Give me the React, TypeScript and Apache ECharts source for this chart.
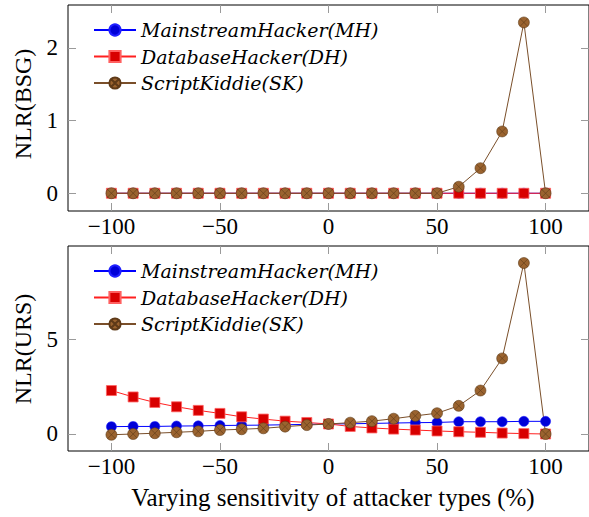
import React, { useEffect, useRef } from "react";
import * as echarts from "echarts";

const xValues = [-100, -90, -80, -70, -60, -50, -40, -30, -20, -10, 0, 10, 20, 30, 40, 50, 60, 70, 80, 90, 100];
const xTicks = [-100, -50, 0, 50, 100];

const seriesNames = ["MainstreamHacker(MH)", "DatabaseHacker(DH)", "ScriptKiddie(SK)"];

// NLR(BSG)
const bsgMH = [0, 0, 0, 0, 0, 0, 0, 0, 0, 0, 0, 0, 0, 0, 0, 0, 0, 0, 0, 0, 0];
const bsgDH = [0, 0, 0, 0, 0, 0, 0, 0, 0, 0, 0, 0, 0, 0, 0, 0, 0, 0, 0, 0, 0];
const bsgSK = [0, 0, 0, 0, 0, 0, 0, 0, 0, 0, 0, 0, 0, 0, 0, 0, 0.09, 0.345, 0.85, 2.35, 0];
const bsgTicks = [0, 1, 2];

// NLR(URS)
const ursMH = [0.39, 0.4, 0.4, 0.42, 0.43, 0.45, 0.46, 0.47, 0.49, 0.51, 0.53, 0.54, 0.56, 0.58, 0.6, 0.61, 0.65, 0.65, 0.65, 0.67, 0.67];
const ursDH = [2.3, 1.96, 1.67, 1.44, 1.25, 1.09, 0.91, 0.79, 0.68, 0.61, 0.53, 0.4, 0.32, 0.26, 0.21, 0.16, 0.12, 0.09, 0.05, 0.02, 0];
const ursSK = [-0.04, 0, 0.04, 0.09, 0.14, 0.21, 0.25, 0.3, 0.39, 0.47, 0.53, 0.6, 0.68, 0.81, 0.96, 1.1, 1.49, 2.3, 4.0, 9.05, 0];
const ursTicks = [0, 5];

const SERIF = "Liberation Serif";
const OTIMES =
  "path://M0,-1 A1,1 0 1,1 0,1 A1,1 0 1,1 0,-1 Z M-0.707,-0.707 L0.707,0.707 M0.707,-0.707 L-0.707,0.707";

const fmt = (v: number) => (v < 0 ? "\u2212" + Math.abs(v) : String(v));

export default function App() {
  const ref = useRef<HTMLDivElement>(null);
  useEffect(() => {
    document.body.style.margin = "0";
    const chart = echarts.init(ref.current!, null, { renderer: "svg" });

    const tickStyle = { color: "#9a9a9a", width: 1 };
    const mkX = (grid: number, pos: "bottom" | "top") => ({
      type: "value",
      gridIndex: grid,
      position: pos,
      min: -120,
      max: 120,
      axisLine: { show: false, onZero: false },
      splitLine: { show: false },
      axisTick: { show: true, inside: true, length: 8, lineStyle: tickStyle, customValues: xTicks },
      axisLabel: {
        show: pos === "bottom",
        customValues: xTicks,
        formatter: fmt,
        fontFamily: SERIF,
        fontSize: 23,
        color: "#000",
        margin: 4,
      },
    });
    const mkY = (grid: number, pos: "left" | "right", min: number, max: number, ticks: number[]) => ({
      type: "value",
      gridIndex: grid,
      position: pos,
      min,
      max,
      axisLine: { show: false, onZero: false },
      splitLine: { show: false },
      axisTick: { show: true, inside: true, length: 8, lineStyle: tickStyle, customValues: ticks },
      axisLabel: {
        show: pos === "left",
        customValues: ticks,
        formatter: fmt,
        fontFamily: SERIF,
        fontSize: 23,
        color: "#000",
        margin: 10,
      },
    });

    const mkSeries = (grid: number, mh: number[], dh: number[], sk: number[]) => [
      {
        name: seriesNames[0],
        type: "line",
        xAxisIndex: grid * 2,
        yAxisIndex: grid * 2,
        data: xValues.map((x, i) => [x, mh[i]]),
        symbol: "circle",
        symbolSize: 10,
        lineStyle: { color: "#0000ff", width: 1 },
        itemStyle: { color: "#0000d8", borderColor: "#2020ff", borderWidth: 0.6 },
      },
      {
        name: seriesNames[1],
        type: "line",
        xAxisIndex: grid * 2,
        yAxisIndex: grid * 2,
        data: xValues.map((x, i) => [x, dh[i]]),
        symbol: "rect",
        symbolSize: 10,
        lineStyle: { color: "#ff2020", width: 1 },
        itemStyle: { color: "#d80000", borderColor: "#ff6060", borderWidth: 0.8 },
      },
      {
        name: seriesNames[2],
        type: "line",
        xAxisIndex: grid * 2,
        yAxisIndex: grid * 2,
        data: xValues.map((x, i) => [x, sk[i]]),
        symbol: OTIMES,
        symbolSize: 11,
        lineStyle: { color: "#7a4f2a", width: 1 },
        itemStyle: { color: "#9a632f", borderColor: "#5e3a18", borderWidth: 0.6 },
      },
    ];

    const mkLegend = (top: number) => ({
      orient: "vertical",
      left: 88,
      top,
      itemWidth: 42,
      itemHeight: 14,
      itemGap: 6.5,
      data: seriesNames,
      selectedMode: false,
      textStyle: {
        fontFamily: "DejaVu Serif",
        fontStyle: "italic",
        fontSize: 19,
        lineHeight: 20,
        color: "#000",
      },
    });

    chart.setOption({
      animation: false,
      backgroundColor: "#fff",
      grid: [
        { left: 68, top: 5, width: 522, height: 206, show: true, borderColor: "#000", borderWidth: 1, backgroundColor: "transparent" },
        { left: 68, top: 246, width: 522, height: 205, show: true, borderColor: "#000", borderWidth: 1, backgroundColor: "transparent" },
      ],
      xAxis: [mkX(0, "bottom"), mkX(0, "top"), mkX(1, "bottom"), mkX(1, "top")],
      yAxis: [
        mkY(0, "left", -0.244, 2.59, bsgTicks),
        mkY(0, "right", -0.244, 2.59, bsgTicks),
        mkY(1, "left", -0.9, 9.95, ursTicks),
        mkY(1, "right", -0.9, 9.95, ursTicks),
      ],
      legend: [mkLegend(15), mkLegend(256)],
      series: [...mkSeries(0, bsgMH, bsgDH, bsgSK), ...mkSeries(1, ursMH, ursDH, ursSK)],
      graphic: [
        {
          type: "text",
          x: 23,
          y: 104,
          rotation: Math.PI / 2,
          style: { text: "NLR(BSG)", font: `24px "${SERIF}"`, fill: "#000", textAlign: "center", textVerticalAlign: "middle" },
        },
        {
          type: "text",
          x: 23,
          y: 349,
          rotation: Math.PI / 2,
          style: { text: "NLR(URS)", font: `24px "${SERIF}"`, fill: "#000", textAlign: "center", textVerticalAlign: "middle" },
        },
        {
          type: "text",
          x: 333,
          y: 497,
          style: {
            text: "Varying sensitivity of attacker types (%)",
            font: `25px "${SERIF}"`,
            fill: "#000",
            textAlign: "center",
            textVerticalAlign: "middle",
          },
        },
      ],
    });
    return () => chart.dispose();
  }, []);
  return <div ref={ref} style={{ width: 589, height: 517 }} />;
}
